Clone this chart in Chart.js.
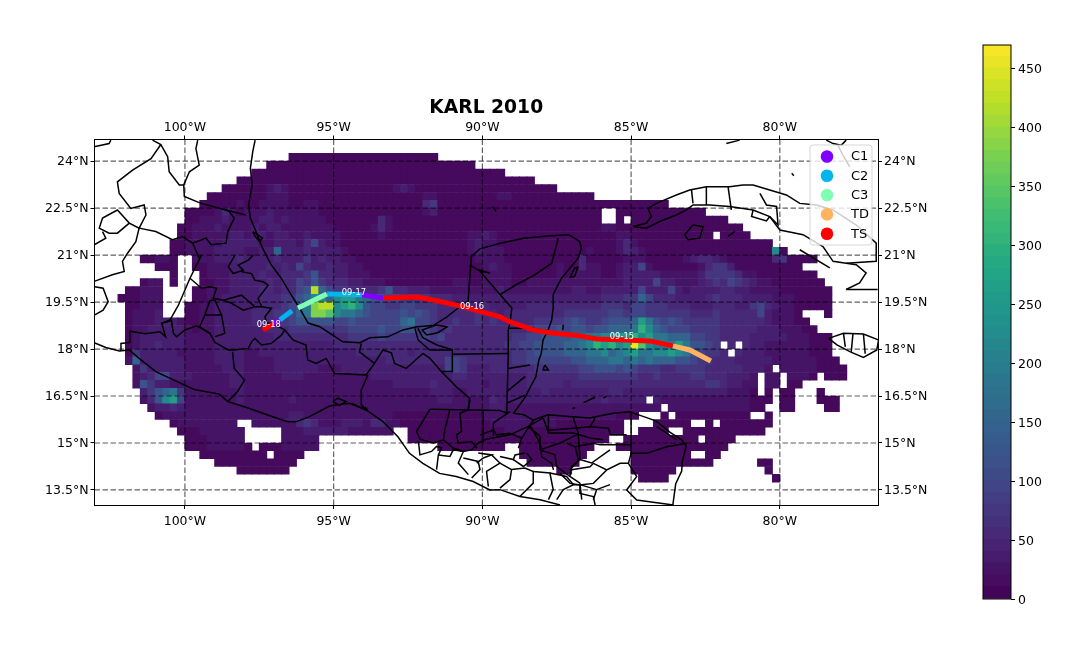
<!DOCTYPE html>
<html>
<head>
<meta charset="utf-8">
<title>KARL 2010</title>
<script src="https://cdn.jsdelivr.net/npm/chart.js@4/dist/chart.umd.js"></script>
<style>
  html, body { margin: 0; padding: 0; background: #fff; overflow: hidden; }
  #mapa { position: absolute; left: 0; top: 0; }
  #barra { position: absolute; left: 960px; top: 0; }
</style>
</head>
<body>
<canvas id="mapa" width="1088" height="652"></canvas>
<canvas id="barra" width="128" height="652"></canvas>
<script>
// ticks
const lonTicks = [-100, -95, -90, -85, -80];
const latTicks = [24, 22.5, 21, 19.5, 18, 16.5, 15, 13.5];
const colorbarTicks = [0, 50, 100, 150, 200, 250, 300, 350, 400, 450];
const colorbarBands = [0,10,20,30,40,50,60,70,80,90,100,110,120,130,140,150,160,170,180,190,200,210,220,230,240,250,260,270,280,290,300,310,320,330,340,350,360,370,380,390,400,410,420,430,440,450,460,470];

// rainfall levels, one hex character per 0.25 degree cell ('.' = no data)
const levelValues = [12,25,40,55,75,95,120,150,185,220,260,300,340,380,420,460];
const fieldRows = [
".......... .......... ......0000 0000000000 000000....",
".......... .......... ...0000000 0000000000 0000000000 0.........",
".......... .......... .000000000 0000000000 0000000000 00000.....",
".......... .........0 0000000000 0000000000 0000000000 000000000.",
".......... .......000 0001210000 0000000000 1210000000 0000000000 00........",
".......... .....00000 0001110000 0000000000 0000110000 0000110000 0000000...",
".......... ....000001 0011110011 0000000000 0000340000 0000000000 0000000000 0000000...",
".......... ..00001310 1112111111 0000000000 0000120000 0000000000 00000000.. 0000000000 00........",
".......... ..00111211 1122121111 1000000031 0000000000 0000000000 00000000.. 0.00000000 00000.....",
".......... .001112111 1212211111 1100000131 0000000000 0000000000 0000000011 0000000000 0000000...",
".......... .001111122 1221221121 1110000010 0000000000 1121000000 0000000000 1100000000 000.0000..",
".......... 0011111222 2211222135 2110000000 0000000000 1211000000 0000000000 1310000000 0000000000 0.........",
".......... 0011112222 1122722232 2221000000 0000000000 1211100000 0000001000 1321000000 0000000000 090.......",
"......0011 0..1112223 2222322242 3221100000 0000000000 0111100000 0000030000 0111000001 2332100000 0340000...",
"........00 0..0011122 2223232532 2322110000 0000000000 0012110000 0010031100 1225100000 0134420000 00000.....",
".......... 0...011122 2232233346 3322111000 0000000000 0011110000 0010111100 1222221111 1244443110 0000000...",
"......011. 0...001122 2223233546 4333221110 0000000011 0011110011 1111111111 1222252211 1234354321 10000000..",
"....00111. ...0011122 223323356e 7544333346 3322211111 1111211111 1111221122 2225222521 2222332211 110000000.",
"...000111. ...0011222 2233344679 979aa87665 5444433322 2222222222 2222222233 3447533322 2234333222 211100000.",
"....00111. ..00112222 223334568d ee9ab96554 4554443333 3232222233 3333333344 4355444333 2223332245 321100000.",
"....01112. ..00112222 233344578d dc98876555 5656543333 3433233333 3334444445 5455444444 3334333335 21110...0.",
"....011122 2100112222 2333345666 6655655555 5785543343 3434333334 4445654456 667a865654 4444333333 211100....",
"....011222 2210112222 2223334444 4444555565 5664543433 3333333345 5565665667 778b976555 4444333332 2211100...",
"....012222 2211112222 2222333333 3333444454 4444545333 3333334455 6666778899 aab9a88777 5544333322 222111000.",
"....012232 2211112222 2222222222 2233333333 3333333333 3333344556 6667789bab 9afc9888a8 6654.3.322 111111000.",
"....042222 2111112222 1122222222 2222233333 3323333333 3333334456 6667778897 89a8899a98 65443.3222 111111000.",
"....172222 2211112222 1111222222 2222222223 3333333554 3333334455 5555667778 8787877766 5443332222 2111111000",
".....14222 2211111222 1111222222 1112222222 2222222554 2223333334 4444455666 5654443344 4433333222 1.11111000 0....",
".....12355 2221111122 1111122211 1111111222 2222222233 2222222233 3333344444 4443343333 443332221. 11.1110.00 0....",
".....16422 1111111122 1111111111 1111111111 2222232222 2212222233 3332333333 3333333333 334432211. 11.00.....",
"......2467 8411111112 1111111111 1111111111 1111122211 2222222222 3222222223 3222222222 222221110. 0.00...0..",
"......1369 a511111112 1111112111 1111111111 1111112211 1113222222 2222222232 2222.21111 1111111100 0.00...000",
".......122 3211111111 1111111111 1111111111 1111111111 1112211111 1111111111 111111.111 1111111100 ..00....00",
"........01 1111111111 1111112211 1111111111 0000000000 0011111111 1111111111 000...0.00 00000000.. 0.........",
".......... 011111111. .111111343 1112221331 1000000000 0001111111 1100000000 0....00000 ..0.000000 0.........",
".......... .000111111 .....11122 2222111111 ..00000000 0000011100 0000000000 0..0000..0 0000000000",
".......... ..00011111 .....11111 .......... ..00000000 0000000000 000000000. .000000000 0.0000....",
".......... ..00011111 0.00011111 .......... ......0000 00000..000 0000000... 0000000000 00000.....",
".......... ....000000 000.0000.. .......... .......... .......000 000000.... ..00000000 ..00......",
".......... ......0000 0000000... .......... .......... ........00 00000..... ..00000000 000......0 0.........",
".......... .........0 000000.... .......... .......... .......... ..00...... ..000000.. .......... 0.........",
".......... .......... .......... .......... .......... .......... .......... ...0000... .......... .0........"
];

// track segments, lon lat pairs
const trackTD = [[-83.6,18.1],[-83.03,17.97],[-82.32,17.62]];
const trackTS1 = [[-83.6,18.1],[-84.37,18.26],[-86.15,18.32],[-86.72,18.42],[-87.73,18.52],[-88.3,18.61],[-89.08,18.87],[-89.41,19.03],[-90.76,19.38],[-91.53,19.54],[-92.2,19.66],[-93.34,19.63]];
const trackC1a = [[-93.34,19.63],[-94.05,19.73]];
const trackC2a = [[-94.05,19.73],[-95.23,19.76]];
const trackC3 = [[-95.23,19.76],[-95.7,19.54],[-96.2,19.31]];
const trackC2b = [[-96.4,19.22],[-96.81,18.93]];
const trackC1b = [[-96.81,18.93],[-97.02,18.8]];
const trackTS2 = [[-97.02,18.8],[-97.38,18.61]];

// date labels
const dateLabels = ['09-15','09-16','09-17','09-18'];
const dateLon = [-85.31,-90.35,-94.32,-97.18];
const dateLat = [18.39,19.34,19.79,18.77];

// legend
const legendNames = ['C1','C2','C3','TD','TS'];
const legendColors = ['#8000ff','#00b5eb','#80ffb4','#ffb360','#ff0000'];

// coasts and borders, lon lat pairs
const coastGulf = [[-97.64,24.67],[-97.72,24.3],[-97.8,23.77],[-97.74,23.24],[-97.86,22.6],[-97.8,22.18],[-97.61,21.75],[-97.39,21.22],[-97.1,20.69],[-96.77,20.27],[-96.43,19.74],[-96.15,19.31],[-95.86,18.83],[-95.46,18.71],[-94.69,18.23],[-94.12,18.2],[-93.78,18.36],[-93.18,18.39],[-92.67,18.61],[-92.2,18.71],[-91.66,18.75],[-91.19,19.03],[-90.76,19.35],[-90.48,19.52],[-90.43,20.16],[-90.37,20.96],[-90.08,21.2],[-89.4,21.38],[-88.6,21.54],[-87.8,21.61],[-87.1,21.65],[-86.73,21.43],[-86.67,21.22],[-86.78,20.9],[-87.06,20.58],[-87.34,20.26],[-87.62,19.74],[-87.62,19.31],[-87.67,18.93],[-87.79,18.6],[-87.96,18.29],[-88.02,17.86],[-88.1,17.65],[-88.2,17.12],[-88.38,16.8],[-88.55,16.48],[-88.95,15.95],[-88.6,15.9],[-88.3,15.73],[-87.8,15.9],[-87.2,15.85],[-86.4,15.8],[-85.6,15.95],[-85.05,16],[-84.6,15.85],[-84.15,15.7],[-83.7,15.35],[-83.3,15.1],[-83.15,14.9],[-83.28,14.4],[-83.3,14.1],[-83.5,13.7],[-83.6,13]];
const coastPacific = [[-103.05,18.2],[-102.66,18.05],[-102.2,17.94],[-101.87,17.97],[-101.54,17.7],[-100.98,17.28],[-100.42,17.03],[-99.69,16.71],[-98.84,16.56],[-98.56,16.32],[-97.95,16.14],[-97.05,15.84],[-96.54,15.68],[-96.26,15.68],[-95.81,15.84],[-95.14,16.18],[-94.47,16.27],[-93.9,16.05],[-93.34,15.68],[-92.84,15.2],[-92.45,14.67],[-92,14.35],[-91.44,14.03],[-90.88,13.93],[-90.31,13.77],[-89.75,13.5],[-89.41,13.51],[-88.74,13.29],[-88.06,13.19],[-87.39,13.02]];
const cubaCoast = [[-84.93,21.91],[-84.49,22.02],[-84.32,22.23],[-84.43,22.49],[-84.15,22.65],[-83.48,22.92],[-83.03,23.08],[-82.47,23.18],[-81.69,23.18],[-81.24,23.24],[-80.9,23.24],[-80.34,23.08],[-79.78,22.92],[-79.33,22.65],[-78.77,22.6],[-78.21,22.44],[-77.43,21.96],[-76.76,21.38],[-76.76,20.8],[-77.77,20.74],[-78.21,20.8],[-78.55,21.27],[-79.22,21.65],[-80,21.8],[-80.34,22.23],[-80.9,22.44],[-81.69,22.55],[-82.36,22.6],[-82.92,22.6],[-83.14,22.44],[-83.48,22.28],[-84.04,22.07],[-84.49,21.86],[-84.93,21.91]];
const jamaica = [[-78.36,18.34],[-77.86,18.5],[-77.19,18.48],[-76.68,18.29],[-76.74,17.97],[-77.19,17.73],[-77.63,17.91],[-78.08,18.13],[-78.36,18.34]];
const borderLines = [
  [[-103.05,24.46],[-102.55,24.56],[-102.49,24.67]],
  [[-101.09,24.67],[-100.81,24.53],[-100.58,24.14],[-100.53,23.66],[-100.19,23.24],[-100.04,23.24],[-99.85,23.66],[-99.52,23.87],[-99.63,24.4],[-99.57,24.67]],
  [[-100.04,23.24],[-100.02,22.87],[-99.46,22.65],[-98.62,22.44],[-97.95,22.28]],
  [[-100.81,24.53],[-101.14,24.08],[-101.76,23.71],[-102.27,23.34],[-102.21,22.97],[-101.82,22.49],[-101.37,22.6],[-101.31,22.28],[-101.54,21.86],[-101.87,22.02],[-102.27,22.44],[-102.77,22.18],[-102.88,21.86],[-102.55,21.7],[-102.27,21.7],[-101.87,22.02]],
  [[-101.54,21.86],[-100.98,21.75],[-100.42,21.49],[-100.08,21.59],[-99.74,21.38],[-99.29,21.54],[-99.12,21.33],[-98.62,21.38],[-98.56,21.75],[-98.34,22.18],[-98.51,22.39],[-98.62,22.44]],
  [[-101.54,21.86],[-101.65,21.43],[-101.93,21.06],[-102.1,20.8],[-102.04,20.48],[-102.44,20.37],[-103.05,20.16]],
  [[-102.77,21.75],[-102.66,21.54],[-103.05,21.33]],
  [[-103.03,19.99],[-102.75,19.94],[-102.58,19.51],[-102.75,19.24],[-103.03,19.09]],
  [[-99.74,21.38],[-99.52,20.9],[-99.44,21],[-99.61,20.68],[-99.83,20.26],[-100.22,19.4],[-100.5,18.93],[-100.78,18.82]],
  [[-99.83,20.26],[-99.44,19.94],[-99.16,19.99],[-98.94,19.94],[-99.05,19.62],[-98.71,19.56],[-98.1,19.72],[-97.65,19.35],[-98.04,19.24],[-98.43,19.46],[-98.71,19.56]],
  [[-99.16,19.56],[-99.33,19.09],[-98.77,19.09],[-98.99,19.56],[-99.16,19.56]],
  [[-99.33,19.09],[-99.5,18.71],[-99.16,18.5]],
  [[-98.77,19.09],[-98.66,18.5],[-98.99,18.39]],
  [[-98.32,21],[-98.54,20.63],[-98.38,20.41],[-98.04,20.52],[-98.21,20.68],[-97.87,20.84],[-97.7,21]],
  [[-98.1,20.47],[-97.76,20.41],[-97.65,20.2],[-97.37,20.15],[-97.2,20.04],[-97.54,19.62],[-97.42,19.35],[-97.09,19.3],[-97.31,19.03],[-97.25,18.82],[-97.09,18.82],[-96.64,18.61]],
  [[-97.65,19.35],[-97.42,19.35]],
  [[-97.72,21.75],[-97.39,21.54],[-97.5,21.43],[-97.67,21.64],[-97.72,21.75]],
  [[-102.15,17.94],[-102.15,18.18],[-101.87,18.21],[-101.85,18.57],[-101.34,18.49],[-100.84,18.55],[-100.65,18.39],[-100.78,18.82],[-100.45,18.91],[-100.39,18.5],[-100.28,18.39],[-100,18.61],[-99.61,18.74],[-99.16,18.5],[-98.99,18.21],[-98.54,17.97],[-98.38,17.97],[-97.87,18.02],[-97.76,18.23],[-97.65,18.34],[-97.42,18.13],[-97.09,18.18],[-96.75,18.45],[-96.64,18.61],[-96.37,18.29],[-95.93,18.13],[-95.87,17.65],[-95.59,17.54],[-95.25,17.7],[-94.97,17.22],[-93.91,17.17],[-93.63,17.54],[-94.13,17.91],[-94.07,18.18]],
  [[-93.63,17.54],[-93.34,17.97],[-93.06,17.88],[-92.95,17.54],[-92.56,17.38],[-92,17.86],[-91.77,17.71],[-91.38,17.28],[-90.99,17.28],[-91.01,17.97],[-91.77,17.97],[-92.16,18.29],[-92.27,18.66]],
  [[-91.38,17.28],[-90.88,16.8],[-90.43,16.43],[-90.48,16.05]],
  [[-90.99,17.83],[-89.13,17.86]],
  [[-98.4,17.91],[-98.34,17.38],[-98,17.01],[-98.23,16.64],[-98.56,16.32]],
  [[-93.85,17.17],[-94.07,16.69],[-94.07,16.21],[-93.85,16.05]],
  [[-95.03,16.32],[-94.86,16.43],[-94.58,16.32],[-94.8,16.21],[-95.03,16.32]],
  [[-94.4,16.27],[-94.12,16.14],[-93.9,16.11],[-93.96,16.03]],
  [[-92.03,18.61],[-91.53,18.77],[-91.19,18.71],[-91.5,18.52],[-91.87,18.45],[-92.03,18.61]],
  [[-92.17,18.67],[-92,18.36],[-91.53,18.13],[-90.99,17.97]],
  [[-91.76,16.08],[-92.21,15.37],[-92.1,15.12],[-91.65,15],[-91.31,15.1],[-90.98,14.84],[-90.64,14.73],[-90.36,14.78],[-90.14,15],[-89.88,15.12],[-89.07,15.26],[-88.46,15.53],[-87.95,15.8]],
  [[-91.76,16.08],[-89.41,16.04],[-89.18,15.95]],
  [[-89.63,15.64],[-89.63,15.23]],
  [[-91.09,16.08],[-91.26,15.42],[-91.31,15.1]],
  [[-90.42,16.38],[-90.47,16.06],[-90.75,15.95],[-90.7,15.37],[-90.87,15.26],[-90.81,15],[-90.36,15.05],[-90.19,14.84]],
  [[-89.97,16.06],[-89.97,15]],
  [[-89.63,15.64],[-89.07,16]],
  [[-88.46,15.53],[-88.06,15.21],[-88.06,14.78],[-87.56,14.62],[-87.5,14.25],[-87.06,13.93],[-86.72,13.72]],
  [[-87.95,15.8],[-87.78,15.32],[-86.94,15.32],[-86.38,15.16],[-85.94,15.1]],
  [[-87.78,15.9],[-87.78,15.32]],
  [[-86.94,15.8],[-86.78,15.32],[-86.72,14.47],[-87,14.25],[-87.06,13.93]],
  [[-88.06,14.78],[-87.39,15],[-86.83,15.26]],
  [[-86.72,14.47],[-86.33,14.36],[-85.71,14.78]],
  [[-85,16],[-85,14.67],[-84.47,14.67],[-83.8,14.88],[-83.13,14.99]],
  [[-87.78,15.41],[-86.94,15.47],[-86.38,15.52],[-86.21,15.79]],
  [[-86.38,15.52],[-85.76,15.47],[-85.7,15.26],[-85.15,15.26]],
  [[-87.16,14.99],[-86.88,14.88],[-86.77,14.46],[-87.05,14.14]],
  [[-86.88,14.88],[-86.27,14.99],[-86.04,14.94],[-85,14.94]],
  [[-87.05,14.14],[-86.38,14.24],[-86.27,14.35],[-85.82,14.14],[-85.37,14.35],[-85.09,14.35]],
  [[-85,14.67],[-85.09,14.35],[-84.81,13.93],[-85.15,13.5],[-84.81,13.18],[-83.58,13.02]],
  [[-85.82,14.14],[-86.04,13.93],[-86.27,13.71],[-86.72,13.66],[-86.72,13.39],[-86.27,13.29],[-86.21,13.02]],
  [[-87.39,14.03],[-87.05,13.71],[-86.72,13.66]],
  [[-88.4,15.57],[-88.06,14.99],[-88,14.56],[-87.67,14.35],[-87.61,14.14]],
  [[-90.08,15.26],[-89.63,15.41],[-89.52,15.26],[-89.07,15.31],[-88.68,15.15],[-88.4,15.57],[-88.28,15.73]],
  [[-88.68,15.15],[-88.79,14.83]],
  [[-89.13,18.61],[-89.13,17.86],[-89.18,15.95]],
  [[-89.13,18.66],[-88.28,18.66],[-87.78,18.55]],
  [[-89.13,17.38],[-88.4,17.49]],
  [[-88.73,17.01],[-88.56,17.12],[-89.18,16.64]],
  [[-89.18,16.27],[-88.56,16.53]],
  [[-90.43,20.69],[-90.15,20.53],[-89.75,20.43],[-90.08,20.48],[-89.41,19.74],[-89.01,19.31],[-89.07,18.84],[-89.13,18.61]],
  [[-89.41,19.74],[-88.85,20.06],[-88.24,20.37],[-87.67,20.74],[-87.45,21.54]],
  [[-92.15,15.05],[-92.1,14.62],[-91.71,14.73],[-91.54,14.89],[-91.37,14.84],[-91.48,14.62],[-91.54,14.15]],
  [[-91.48,14.62],[-91.09,14.57],[-90.98,14.78],[-90.64,14.73],[-90.81,14.36],[-90.47,13.99]],
  [[-90.64,14.52],[-90.14,14.41],[-90.08,14.15],[-90.36,13.88]],
  [[-90.14,14.68],[-89.69,14.62],[-89.97,14.52],[-90.19,14.36]],
  [[-89.69,14.62],[-89.41,14.36],[-89.86,14.09],[-89.8,13.61]],
  [[-89.41,14.57],[-88.96,14.47],[-88.9,14.62],[-88.57,14.68]],
  [[-89.41,14.36],[-89.02,14.15],[-89.07,13.83],[-89.41,13.56]],
  [[-89.02,14.15],[-88.57,14.2],[-88.29,14.09],[-88.29,13.72],[-88.74,13.29]],
  [[-88.96,14.47],[-88.62,14.25],[-88.34,14.47],[-88.51,14.68]],
  [[-88.29,14.09],[-87.73,14.04],[-87.62,13.51],[-87.78,13.19]],
  [[-87.73,14.04],[-87.17,13.93],[-86.94,13.67],[-87.28,13.51],[-87.5,13.19]],
  [[-86.94,13.67],[-86.72,13.67],[-86.16,13.51],[-86.27,13.19]],
  [[-86.72,13.72],[-86.66,13.19]],
  [[-86.16,13.51],[-85.71,13.67]],
  [[-82.97,23.08],[-82.92,22.65]],
  [[-82.47,23.18],[-82.47,22.6]],
  [[-81.74,23.18],[-81.63,22.44]],
  [[-80.67,22.97],[-80.45,22.6],[-80.11,22.55],[-80.06,21.96],[-80.34,22.23]],
  [[-80.9,22.44],[-80.95,22.23],[-80.45,22.09],[-80.34,22.23]],
  [[-83.2,21.65],[-82.92,21.96],[-82.58,21.91],[-82.69,21.54],[-83.09,21.49],[-83.2,21.65]],
  [[-77.77,19.9],[-77.32,20.11],[-77.1,20.43],[-77.43,20.69],[-77.77,20.74]],
  [[-77.77,19.9],[-76.71,19.9]],
  [[-77.86,18.5],[-77.8,18.07]],
  [[-77.54,18.5],[-77.6,17.91]],
  [[-77.19,18.48],[-77.13,17.85]]
];
const islandLines = [
  [[-86.9,20.59],[-86.79,20.61],[-86.9,20.32],[-87.04,20.29],[-86.9,20.59]],
  [[-87.28,18.77],[-87.3,18.6]],
  [[-87.9,17.49],[-87.96,17.33],[-87.78,17.33],[-87.9,17.49]],
  [[-86.6,16.29],[-86.21,16.46]],
  [[-85.93,16.43],[-85.82,16.5]],
  [[-86.97,16.1],[-86.88,16.13]],
  [[-84.14,15.52],[-83.46,15.1]],
  [[-89.65,22.54],[-89.54,22.4]],
  [[-79.33,21.17],[-78.32,20.59]],
  [[-81.52,21.75],[-81.74,21.6]],
  [[-78.44,24.67],[-78.21,24.56],[-77.93,24.51],[-77.77,24.67]],
  [[-78.05,24.51],[-77.88,24.19],[-77.65,23.82]],
  [[-81.8,24.56],[-81.35,24.67]],
  [[-79.6,23.61],[-79.53,23.53]]
];

// viridis
const viridisStops = [[68,1,84],[72,36,117],[65,68,135],[53,95,141],[42,120,142],[33,145,140],[34,168,132],[68,191,112],[122,209,81],[189,223,38],[253,231,37]];
function colorViridis(valor) {
    const t = Math.min(1, Math.max(0, valor / 470)) * (viridisStops.length - 1);
    const i = Math.min(viridisStops.length - 2, Math.floor(t));
    const f = t - i;
    const a = viridisStops[i], b = viridisStops[i + 1];
    return `rgb(${Math.round(a[0] + (b[0] - a[0]) * f)},${Math.round(a[1] + (b[1] - a[1]) * f)},${Math.round(a[2] + (b[2] - a[2]) * f)})`;
}

function toPoints(pairs) {
    return pairs.map(p => ({ x: p[0], y: p[1] }));
}

// build cells from the rows
const cells = [];
fieldRows.forEach(function (row, r) {
    const chars = row.replace(/ /g, '');
    for (let c = 0; c < chars.length; c++) {
        if (chars[c] === '.') continue;
        cells.push({ x: -102.875 + 0.25 * c, y: 24.125 - 0.25 * r, v: levelValues[parseInt(chars[c], 16)] });
    }
});
const cellColors = cells.map(c => colorViridis(c.v));

const lonMin = -103.04, lonMax = -76.7, latMin = 13.02, latMax = 24.69;
const fontFamily = "'DejaVu Sans', sans-serif";

const datasets = [];

function trackDataset(pairs, color) {
    return { data: toPoints(pairs), showLine: true, borderColor: color, borderWidth: 5, pointRadius: 0, order: 0, borderCapStyle: 'butt', xAxisID: 'x', yAxisID: 'y' };
}
datasets.push(trackDataset(trackTS1, '#ff0000'));
datasets.push(trackDataset(trackTS2, '#ff0000'));
datasets.push(trackDataset(trackTD, '#ffb360'));
datasets.push(trackDataset(trackC3, '#80ffb4'));
datasets.push(trackDataset(trackC2a, '#00b5eb'));
datasets.push(trackDataset(trackC2b, '#00b5eb'));
datasets.push(trackDataset(trackC1a, '#8000ff'));
datasets.push(trackDataset(trackC1b, '#8000ff'));

// coasts and borders
[coastGulf, coastPacific, cubaCoast, jamaica].concat(borderLines, islandLines).forEach(function (linea) {
    datasets.push({ data: toPoints(linea), showLine: true, borderColor: '#000', borderWidth: 1.5, pointRadius: 0, order: 1, xAxisID: 'x', yAxisID: 'y' });
});

// dashed gridlines sit between the field and the track
lonTicks.forEach(function (lon) {
    datasets.push({ data: [{ x: lon, y: latMin }, { x: lon, y: latMax }], showLine: true, borderColor: 'rgba(0,0,0,0.62)', borderWidth: 1.2, borderDash: [5.5, 2.5], pointRadius: 0, order: 2, xAxisID: 'x', yAxisID: 'y' });
});
latTicks.forEach(function (lat) {
    datasets.push({ data: [{ x: lonMin, y: lat }, { x: lonMax, y: lat }], showLine: true, borderColor: 'rgba(0,0,0,0.62)', borderWidth: 1.2, borderDash: [5.5, 2.5], pointRadius: 0, order: 2, xAxisID: 'x', yAxisID: 'y' });
});

// field
datasets.push({ data: cells, showLine: false, pointStyle: 'rect', pointRadius: 5.9, pointBorderWidth: 0, pointBackgroundColor: cellColors, order: 3, xAxisID: 'x', yAxisID: 'y' });

function lonScale(position, height, padding) {
    return {
        type: 'linear', position: position, min: lonMin, max: lonMax,
        afterBuildTicks: s => { s.ticks = lonTicks.map(v => ({ value: v })); },
        afterFit: s => { s.height = height; },
        grid: { display: true, drawOnChartArea: false, drawTicks: true, tickLength: 4, tickColor: '#000' },
        border: { display: true, color: '#000', width: 1 },
        ticks: { color: '#000', autoSkip: false, maxRotation: 0, padding: padding, font: { family: fontFamily, size: 12.5 }, callback: v => Math.abs(v) + '°W' }
    };
}
function latScale(position, width) {
    return {
        type: 'linear', position: position, min: latMin, max: latMax,
        afterBuildTicks: s => { s.ticks = latTicks.map(v => ({ value: v })); },
        afterFit: s => { s.width = width; },
        grid: { display: true, drawOnChartArea: false, drawTicks: true, tickLength: 4, tickColor: '#000' },
        border: { display: true, color: '#000', width: 1 },
        ticks: { color: '#000', autoSkip: false, padding: 2, labelOffset: 1, font: { family: fontFamily, size: 12.5 }, callback: v => v + '°N' }
    };
}

// date labels and the legend box over the map
const mapOverlay = {
    id: 'mapOverlay',
    afterDraw: function (chart) {
        const ctx = chart.ctx;
        const x = chart.scales.x, y = chart.scales.y;
        ctx.save();
        ctx.fillStyle = '#fff';
        ctx.font = "8.3px " + fontFamily;
        ctx.textAlign = 'center';
        ctx.textBaseline = 'middle';
        dateLabels.forEach(function (txt, i) {
            ctx.fillText(txt, x.getPixelForValue(dateLon[i]), y.getPixelForValue(dateLat[i]));
        });
        const left = chart.chartArea.right - 68, top = chart.chartArea.top + 5.5;
        ctx.beginPath();
        ctx.roundRect(left, top, 62, 100, 3);
        ctx.fillStyle = 'rgba(255,255,255,0.8)';
        ctx.fill();
        ctx.strokeStyle = 'rgba(204,204,204,0.8)';
        ctx.lineWidth = 1;
        ctx.stroke();
        ctx.font = "13px " + fontFamily;
        ctx.textAlign = 'left';
        legendNames.forEach(function (nombre, i) {
            const fila = top + 11.5 + i * 19.3;
            ctx.beginPath();
            ctx.arc(left + 17, fila, 6.3, 0, Math.PI * 2);
            ctx.fillStyle = legendColors[i];
            ctx.fill();
            ctx.fillStyle = '#000';
            ctx.fillText(nombre, left + 41, fila + 0.5);
        });
        ctx.restore();
    }
};

new Chart(document.getElementById('mapa'), {
    type: 'scatter',
    data: { datasets: datasets },
    plugins: [mapOverlay],
    options: {
        responsive: false,
        animation: false,
        events: [],
        layout: { padding: 0 },
        scales: {
            x: lonScale('bottom', 147, 5),
            x2: lonScale('top', 18.06, 0),
            y: latScale('left', 94.5),
            y2: latScale('right', 210)
        },
        plugins: {
            legend: { display: false },
            tooltip: { enabled: false },
            title: {
                display: true, text: 'KARL 2010', color: '#000', fullSize: false,
                font: { family: fontFamily, size: 18.7, weight: 'bold' },
                padding: { top: 97, bottom: 2 }
            }
        }
    }
});

// colorbar
const colorbarFrame = {
    id: 'colorbarFrame',
    afterDraw: function (chart) {
        const a = chart.chartArea;
        chart.ctx.save();
        chart.ctx.strokeStyle = '#000';
        chart.ctx.lineWidth = 1;
        chart.ctx.strokeRect(a.left, a.top, a.right - a.left, a.bottom - a.top);
        chart.ctx.restore();
    }
};
const bandDatasets = colorbarBands.slice(0, -1).map(function (lo, i) {
    const hi = colorbarBands[i + 1];
    return { data: [[lo, hi + 0.6]], backgroundColor: colorViridis((lo + hi) / 2), barPercentage: 1, categoryPercentage: 1, grouped: false };
});
new Chart(document.getElementById('barra'), {
    type: 'bar',
    data: { labels: ['lluvia'], datasets: bandDatasets },
    plugins: [colorbarFrame],
    options: {
        responsive: false,
        animation: false,
        events: [],
        layout: { padding: { left: 23, top: 45, bottom: 53 } },
        scales: {
            x: { display: false },
            y: {
                position: 'right', min: 0, max: 470,
                afterBuildTicks: s => { s.ticks = colorbarTicks.map(v => ({ value: v })); },
                afterFit: s => { s.width = 77; },
                grid: { display: true, drawOnChartArea: false, drawTicks: true, tickLength: 4, tickColor: '#000' },
                border: { display: false },
                ticks: { color: '#000', padding: 3, labelOffset: 1.5, font: { family: fontFamily, size: 12.5 } }
            }
        },
        plugins: { legend: { display: false }, tooltip: { enabled: false } }
    }
});
</script>
</body>
</html>
